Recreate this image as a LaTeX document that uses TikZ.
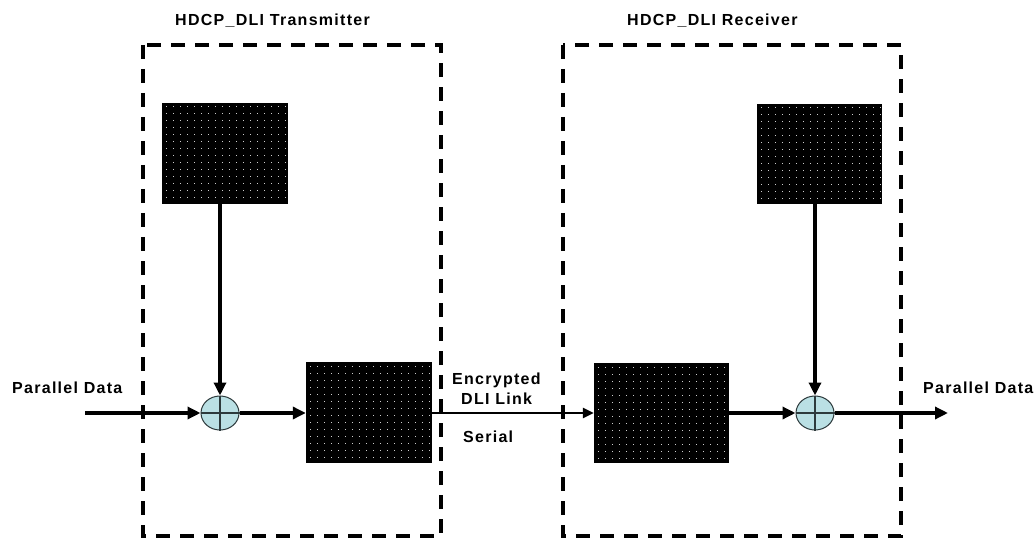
\documentclass[tikz,border=0pt]{standalone}
\usepackage{fontspec}
\newfontfamily\lblfont{Liberation Sans}[LetterSpace=8]
\usetikzlibrary{arrows.meta,shapes.geometric}

\definecolor{xorfill}{RGB}{186,224,228}
\definecolor{xorline}{RGB}{45,58,60}
\definecolor{dotgray}{RGB}{205,205,205}

% light dot grid over a solid block: {x first}{x second}{x last}{y first}{y second}{y last}
\newcommand{\blockgrid}[6]{%
  \foreach \gx in {#1,#2,...,#3}{%
    \foreach \gy in {#4,#5,...,#6}{%
      \fill[dotgray] (\gx-0.5,\gy-0.5) rectangle (\gx+0.5,\gy+0.5);}}}

\begin{document}
\begin{tikzpicture}[x=1pt,y=-1pt,
  lbl/.style={font=\lblfont\bfseries\fontsize{16}{19}\selectfont, inner sep=0pt, anchor=base west},
  frame/.style={draw=black, line width=4pt, dash pattern=on 14pt off 10pt},
  blockbox/.style={draw=none, fill=black, inner sep=0pt},
  xor/.style={ellipse, draw=xorline, line width=1pt, fill=xorfill,
    minimum width=38pt, minimum height=34pt, inner sep=0pt},
  arr/.style={line width=3.5pt, -{Triangle[length=13pt,width=12pt]}},
  link/.style={line width=2.5pt, -{Triangle[length=11pt,width=10pt]}}
]
  \useasboundingbox[fill=white] (0,0) rectangle (1036,540);

  % dashed enclosures
  \draw[frame] (143,45) rectangle (441,536);
  \draw[frame] (563,45) rectangle (901,536);

  % titles
  \node[lbl] (ttitle) at (175,26) {HDCP\_DLI Transmitter};
  \node[lbl] (rtitle) at (627,26) {HDCP\_DLI Receiver};

  % transmitter blocks
  \node[blockbox, minimum width=126pt, minimum height=101pt] (ttop) at (225,153.5) {};
  \blockgrid{166}{173}{286}{107}{114}{202}
  \node[blockbox, minimum width=126pt, minimum height=101pt] (tmid) at (369,412.5) {};
  \blockgrid{310}{317}{430}{366}{373}{461}
  \node[xor] (tx) at (220,413) {};
  \draw[xorline, line width=1.5pt] (tx.north) -- (tx.south) (tx.west) -- (tx.east);

  % receiver blocks
  \node[blockbox, minimum width=125pt, minimum height=100pt] (rtop) at (819.5,154) {};
  \blockgrid{761}{768}{880}{108}{115}{202}
  \node[blockbox, minimum width=135pt, minimum height=100pt] (rmid) at (661.5,413) {};
  \blockgrid{598}{605}{727}{367}{374}{461}
  \node[xor] (rx) at (815,413) {};
  \draw[xorline, line width=1.5pt] (rx.north) -- (rx.south) (rx.west) -- (rx.east);

  % free ends of the data path
  \coordinate (pin) at (85,413);
  \coordinate (pout) at (948,413);

  % connectors
  \draw[arr] (pin) -- (tx.west);
  \draw[arr] (tx |- ttop.south) -- (tx.north);
  \draw[arr] (tx.east) -- (tx.east -| tmid.west);
  \draw[link] (tmid.east |- tx.east) -- (rmid.west |- tx.east);
  \draw[arr] (rmid.east |- rx.west) -- (rx.west);
  \draw[arr] (rx |- rtop.south) -- (rx.north);
  \draw[arr] (rx.east) -- (pout);

  % labels
  \node[lbl] (pdin) at (12,393) {Parallel Data};
  \node[lbl] (pdout) at (923,393) {Parallel Data};
  \node[lbl] (enc) at (452,384) {Encrypted};
  \node[lbl] (dli) at (461,404) {DLI Link};
  \node[lbl] (ser) at (463,442) {Serial};
\end{tikzpicture}
\end{document}
